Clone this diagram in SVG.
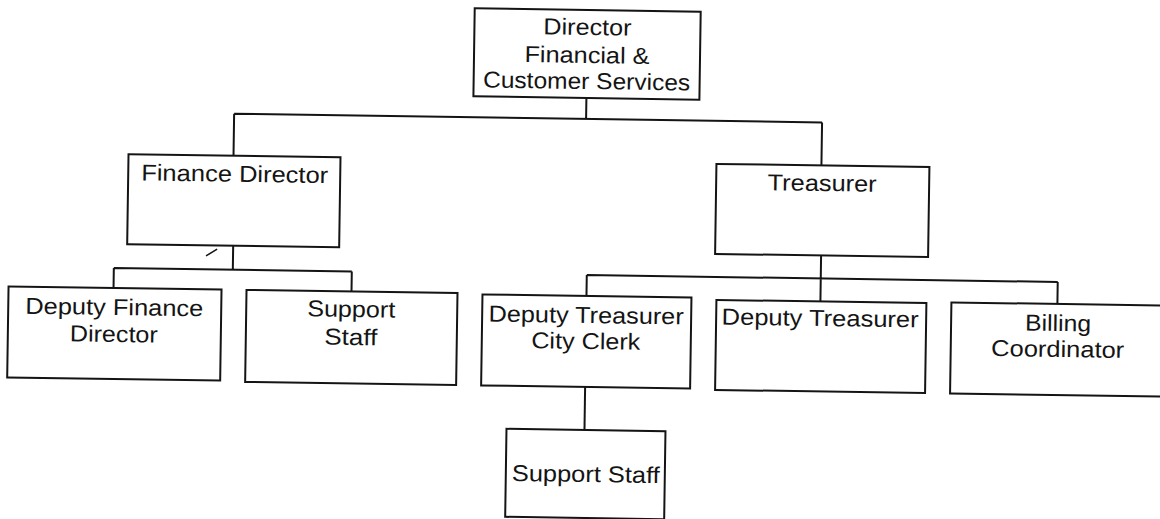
<svg xmlns="http://www.w3.org/2000/svg" width="1160" height="519" viewBox="0 0 1160 519">
<style>
.box{fill:#fff;stroke:#141414;stroke-width:2}
.con{fill:none;stroke:#141414;stroke-width:2}
.t{font-family:"Liberation Sans",Arial,sans-serif;font-size:23px;fill:#141414;text-anchor:middle}
</style>
<rect width="1160" height="519" fill="#fff"/>
<g transform="rotate(0.85 587 260)">
<g id="connectors" class="con">
<path d="M584 98V119M232 119H820M232 119V161M820 119V162"/>
<path d="M233 251V275M114 275H352M114 275V295M352 275V295"/>
<path d="M821 252V275M587 275H1058M587 275V296M821 275V298M1058 275V297"/>
<path d="M587 387V430"/>
<path d="M206 261.6L217 254.6" stroke-width="1.5"/>
</g>
<g id="director">
<rect class="box" x="471" y="10" width="226" height="88"/>
<text class="t" x="584" y="35" textLength="88" lengthAdjust="spacingAndGlyphs">Director</text>
<text class="t" x="584" y="63" textLength="125" lengthAdjust="spacingAndGlyphs">Financial &amp;</text>
<text class="t" x="584" y="89" textLength="207" lengthAdjust="spacingAndGlyphs">Customer Services</text>
</g>
<g id="finance-director">
<rect class="box" x="127" y="161" width="212" height="90"/>
<text class="t" x="233.5" y="187" textLength="187" lengthAdjust="spacingAndGlyphs">Finance Director</text>
</g>
<g id="treasurer">
<rect class="box" x="715" y="162" width="213" height="90"/>
<text class="t" x="821" y="187.5" textLength="109" lengthAdjust="spacingAndGlyphs">Treasurer</text>
</g>
<g id="deputy-finance-director">
<rect class="box" x="9" y="295" width="213" height="91"/>
<text class="t" x="115" y="322" textLength="178" lengthAdjust="spacingAndGlyphs">Deputy Finance</text>
<text class="t" x="115" y="349" textLength="88" lengthAdjust="spacingAndGlyphs">Director</text>
</g>
<g id="support-staff-finance">
<rect class="box" x="247" y="295" width="211" height="92"/>
<text class="t" x="352" y="320.5" textLength="88" lengthAdjust="spacingAndGlyphs">Support</text>
<text class="t" x="352" y="348.5" textLength="53" lengthAdjust="spacingAndGlyphs">Staff</text>
</g>
<g id="deputy-treasurer-city-clerk">
<rect class="box" x="483" y="296" width="209" height="91"/>
<text class="t" x="587" y="323" textLength="195" lengthAdjust="spacingAndGlyphs">Deputy Treasurer</text>
<text class="t" x="587" y="349" textLength="109" lengthAdjust="spacingAndGlyphs">City Clerk</text>
</g>
<g id="deputy-treasurer">
<rect class="box" x="717" y="298" width="210" height="90"/>
<text class="t" x="821" y="322.5" textLength="197" lengthAdjust="spacingAndGlyphs">Deputy Treasurer</text>
</g>
<g id="billing-coordinator">
<rect class="box" x="952" y="297" width="215" height="91"/>
<text class="t" x="1059" y="324" textLength="66" lengthAdjust="spacingAndGlyphs">Billing</text>
<text class="t" x="1059" y="350" textLength="133" lengthAdjust="spacingAndGlyphs">Coordinator</text>
</g>
<g id="support-staff-clerk">
<rect class="box" x="509" y="430" width="159" height="88"/>
<text class="t" x="589" y="482" textLength="148" lengthAdjust="spacingAndGlyphs">Support Staff</text>
</g>
</g>
</svg>
